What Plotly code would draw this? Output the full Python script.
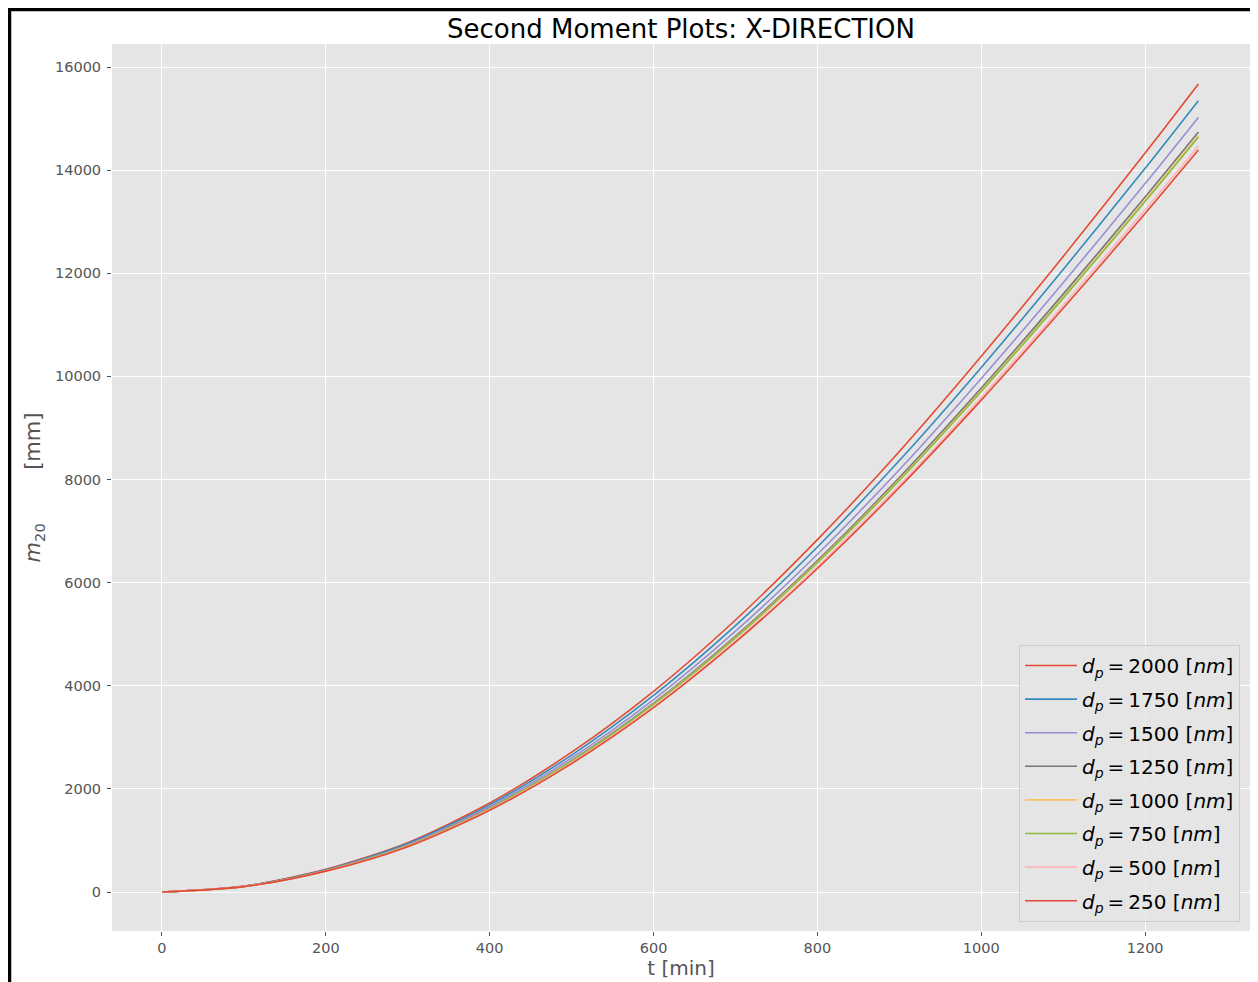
import plotly.graph_objects as go

# time samples [min]
t = [0, 100, 200, 300, 400, 500, 600, 700, 800, 900, 1000, 1100, 1200, 1265]

# particle diameters [nm] and second moment m20 [mm] values
labels = [2000, 1750, 1500, 1250, 1000, 750, 500, 250]
m_2000 = [0, 114, 441, 958, 1726, 2712, 3893, 5276, 6833, 8543, 10389, 12327, 14331, 15671]
m_1750 = [0, 112, 432, 939, 1690, 2656, 3813, 5167, 6692, 8367, 10174, 12073, 14035, 15347]
m_1500 = [0, 110, 423, 919, 1655, 2600, 3732, 5058, 6551, 8190, 9960, 11818, 13739, 15023]
m_1250 = [0, 108, 415, 901, 1624, 2551, 3662, 4963, 6427, 8036, 9772, 11595, 13480, 14740]
m_1000 = [0, 107, 413, 897, 1616, 2539, 3645, 4939, 6397, 7998, 9726, 11541, 13417, 14671]
m_750 = [0, 107, 412, 895, 1613, 2534, 3638, 4930, 6385, 7982, 9707, 11518, 13390, 14642]
m_500 = [0, 106, 407, 885, 1594, 2503, 3594, 4871, 6309, 7887, 9592, 11381, 13231, 14468]
m_250 = [0, 105, 405, 880, 1585, 2490, 3575, 4845, 6275, 7845, 9540, 11320, 13160, 14390]
series = [m_2000, m_1750, m_1500, m_1250, m_1000, m_750, m_500, m_250]

colors = ["#E24A33", "#348ABD", "#988ED5", "#777777", "#FBC15E", "#8EBA42", "#FFB5B8", "#E24A33"]

fig = go.Figure()
for i, (lab, ys) in enumerate(zip(labels, series)):
    fig.add_trace(go.Scatter(
        x=t, y=ys, mode="lines",
        line=dict(color=colors[i], width=1.6, shape="spline", smoothing=0.8),
        name=f"<i>d</i><sub><i>p</i></sub>\u2009=\u2009{lab} [<i>nm</i>]",
        legendgroup=f"g{i}",
    ))

# page offset: the html body has an 8px margin
OFF = 8
W, H = 1258 - OFF, 982 - OFF
# plot area in page pixels: x 112..1250, y 44..931
L, R, T, B = 112 - OFF, (W + OFF) - 1250, 44 - OFF, (H + OFF) - 931
pw, ph = W - L - R, H - T - B

def px_x(px):
    return (px - OFF - L) / pw

def px_y(py):
    return (H - B - (py - OFF)) / ph

fig.update_layout(
    width=W, height=H,
    margin=dict(l=L, r=R, t=T, b=B, autoexpand=False),
    paper_bgcolor="white",
    plot_bgcolor="#E5E5E5",
    font=dict(family="DejaVu Sans", color="#555555"),
    title=dict(text="Second Moment Plots: X-DIRECTION", x=(681 - OFF) / W, xanchor="center",
               y=1 - (29 - OFF) / H, yanchor="middle", automargin=False,
               font=dict(size=26, color="black", family="DejaVu Sans")),
    xaxis=dict(
        range=[-61, 1328], tickvals=[0, 200, 400, 600, 800, 1000, 1200],
        tickformat="d", automargin=False,
        showgrid=True, gridcolor="white", gridwidth=1, zeroline=False,
        ticks="outside", ticklen=4, tickcolor="#555555",
        tickfont=dict(size=14.5, color="#555555"),
        title=dict(text="t [min]", font=dict(size=20, color="#555555"), standoff=4),
        showline=False,
    ),
    yaxis=dict(
        range=[-756, 16446], tickvals=list(range(0, 16001, 2000)),
        tickformat="d", automargin=False, ticklabelstandoff=3,
        showgrid=True, gridcolor="white", gridwidth=1, zeroline=False,
        ticks="outside", ticklen=4, tickcolor="#555555",
        tickfont=dict(size=14.5, color="#555555"),
        title=dict(text="<i>m</i><sub>20</sub>" + "&nbsp;" * 8 + "[mm]",
                   font=dict(size=21, color="#555555"), standoff=8),
        showline=False,
    ),
    legend=dict(
        x=px_x(1240), y=px_y(922), xanchor="right", yanchor="bottom",
        bgcolor="rgba(229,229,229,0.8)", bordercolor="#CCCCCC", borderwidth=1,
        font=dict(size=20, color="black", family="DejaVu Sans"),
        tracegroupgap=4.6, traceorder="grouped", itemwidth=52,
    ),
    showlegend=True,
)

# black frame on the left and top of the picture
fig.add_shape(type="line", xref="paper", yref="paper",
              x0=px_x(9.5), x1=px_x(9.5), y0=px_y(990), y1=px_y(9.5),
              line=dict(color="black", width=3.5))
fig.add_shape(type="line", xref="paper", yref="paper",
              x0=px_x(7.5), x1=px_x(1265), y0=px_y(9.5), y1=px_y(9.5),
              line=dict(color="black", width=3.5))

fig.write_html("out.html")
